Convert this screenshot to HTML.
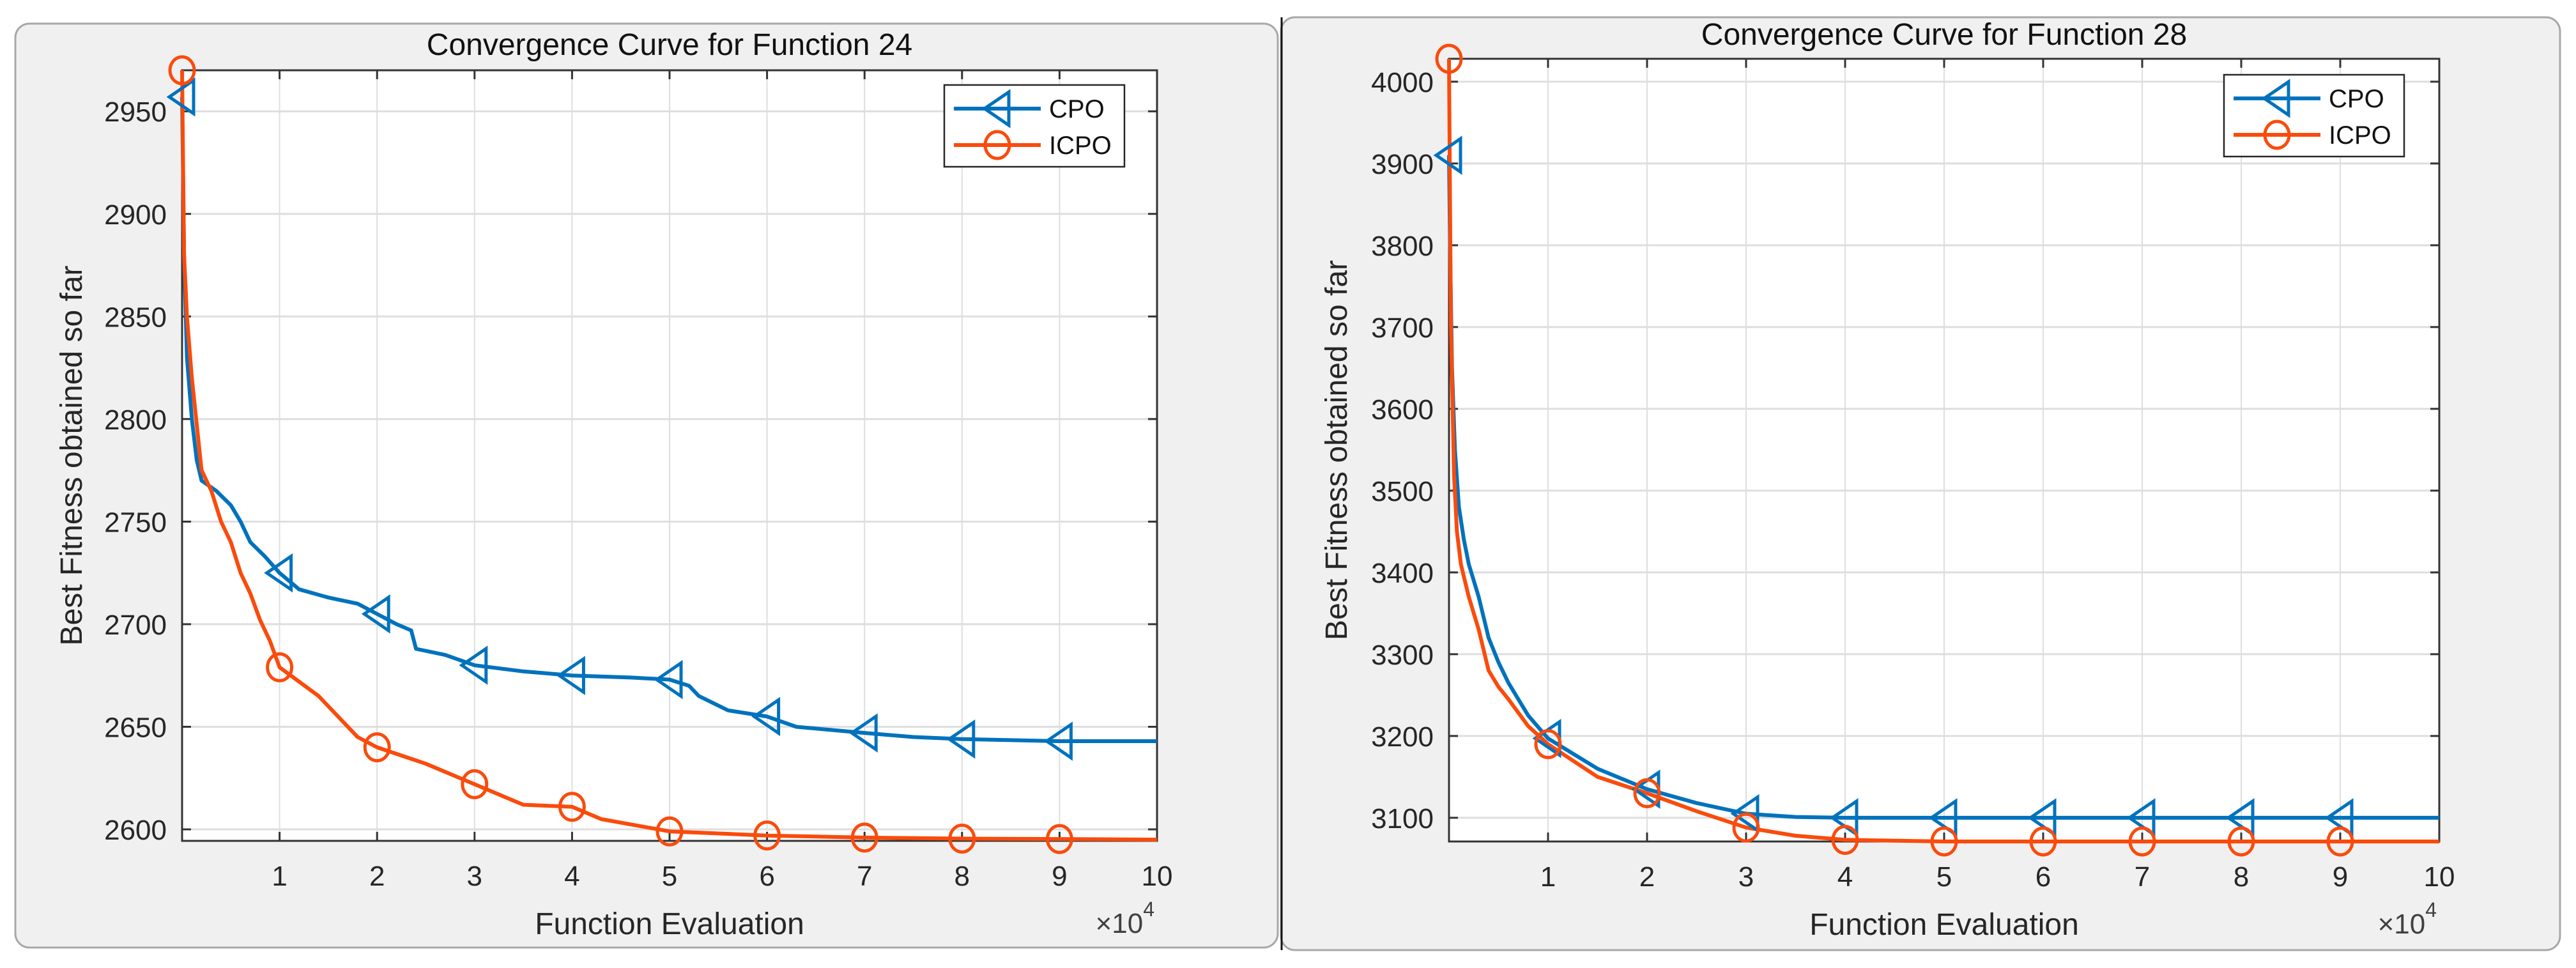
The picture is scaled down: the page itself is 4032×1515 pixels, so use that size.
<!DOCTYPE html>
<html><head><meta charset="utf-8">
<style>
html,body{margin:0;padding:0;background:#fff;}
body{width:4032px;height:1515px;overflow:hidden;position:relative;font-family:"Liberation Sans",Arial,sans-serif;}
svg{position:absolute;left:0;top:0;}
</style></head>
<body>
<svg id="root" width="4032" height="1515" viewBox="0 0 4032 1515">
  <rect x="24" y="37" width="1976" height="1446" rx="22" fill="#f0f0f0" stroke="#a8a8a8" stroke-width="3"/>
  <rect x="2005" y="27" width="2002" height="1460" rx="22" fill="#f0f0f0" stroke="#a8a8a8" stroke-width="3"/>
  <line x1="2006" y1="27" x2="2006" y2="1487" stroke="#111" stroke-width="3"/>
</svg>
<script>
// ---- Function 24 data (x in units of 1e4 evaluations) ----
const f24X_cpo = [0,0.02,0.05,0.1,0.15,0.2,0.35,0.5,0.6,0.7,0.85,1,1.2,1.5,1.8,2,2.2,2.35,2.4,2.7,3,3.5,4,4.6,5,5.2,5.3,5.6,6,6.3,7,7.5,8,9,10];
const f24Y_cpo = [2957,2880,2830,2800,2780,2770,2765,2758,2750,2740,2733,2725,2717,2713,2710,2705,2700,2697,2688,2685,2680,2677,2675,2674,2673,2670,2665,2658,2655,2650,2647,2645,2644,2643,2643];
const f24X_icpo = [0,0.02,0.05,0.1,0.2,0.3,0.4,0.5,0.6,0.7,0.8,0.9,1,1.2,1.4,1.6,1.8,2,2.5,3,3.5,4,4.3,5,6,7,8,9,10];
const f24Y_icpo = [2970,2880,2850,2820,2775,2765,2750,2740,2725,2715,2702,2692,2679,2672,2665,2655,2645,2640,2632,2622,2612,2611,2605,2599,2597,2596,2595.5,2595.3,2595];
const f24YTicks = [2600,2650,2700,2750,2800,2850,2900,2950];
// ---- Function 28 data ----
const f28X_cpo = [0,0.01,0.03,0.06,0.1,0.15,0.2,0.3,0.4,0.5,0.6,0.8,1,1.5,2,2.5,3,3.5,4,5,10];
const f28Y_cpo = [3910,3800,3650,3550,3480,3440,3410,3370,3320,3290,3265,3225,3197,3160,3135,3118,3105,3101,3100,3100,3100];
const f28X_icpo = [0,0.01,0.02,0.05,0.08,0.12,0.2,0.3,0.4,0.5,0.6,0.8,1,1.5,2,2.5,3,3.5,4,5,10];
const f28Y_icpo = [4028,3850,3700,3520,3450,3410,3370,3330,3280,3260,3245,3212,3190,3150,3130,3108,3088,3078,3073,3071,3071];
const f28YTicks = [3100,3200,3300,3400,3500,3600,3700,3800,3900,4000];
const xTicks = [1,2,3,4,5,6,7,8,9,10];
const markerX = [0,1,2,3,4,5,6,7,8,9];
const seriesNames = ['CPO','ICPO'];

const NS='http://www.w3.org/2000/svg';
const root=document.getElementById('root');
const BLUE='#0072BD', ORANGE='#FA4B0C';
function mk(tag,attrs,parent){const e=document.createElementNS(NS,tag);for(const k in attrs)e.setAttribute(k,attrs[k]);(parent||root).appendChild(e);return e;}
function interp(xs,ys,x){for(let i=0;i<xs.length-1;i++){if(x>=xs[i]&&x<=xs[i+1]){const t=(x-xs[i])/(xs[i+1]-xs[i]);return ys[i]+t*(ys[i+1]-ys[i]);}}return ys[ys.length-1];}
function triPath(cx,cy){return `M${cx-20},${cy} L${cx+18},${cy-26} L${cx+18},${cy+26} Z`;}

function drawChart(c){
  const g=mk('g',{});
  
  
  const sx=v=>c.L+(v-0)/(10-0)*(c.R-c.L);
  const sy=v=>c.B-(v-c.ymin)/(c.ymax-c.ymin)*(c.B-c.T);
  const plot=mk('rect',{x:c.L,y:c.T,width:c.R-c.L,height:c.B-c.T,fill:'#fff'},g);
  
  
  // grid
  xTicks.forEach(t=>{const l=mk('line',{x1:sx(t),x2:sx(t),y1:c.T,y2:c.B,stroke:'#dedede','stroke-width':2},g);
    });
  c.yt.forEach(t=>{const l=mk('line',{x1:c.L,x2:c.R,y1:sy(t),y2:sy(t),stroke:'#dedede','stroke-width':3},g);
    });
  // axes box
  const box=mk('rect',{x:c.L,y:c.T,width:c.R-c.L,height:c.B-c.T,fill:'none',stroke:'#333','stroke-width':3},g);
  
  xTicks.forEach(t=>{
    mk('line',{x1:sx(t),x2:sx(t),y1:c.B,y2:c.B-14,stroke:'#333','stroke-width':3},g);
    mk('line',{x1:sx(t),x2:sx(t),y1:c.T,y2:c.T+14,stroke:'#333','stroke-width':3},g);
    const tx=mk('text',{x:sx(t),y:c.B+70,'font-size':44,'text-anchor':'middle',fill:'#262626'},g);
    tx.textContent=t;
    
  });
  c.yt.forEach(t=>{
    mk('line',{x1:c.L,x2:c.L+14,y1:sy(t),y2:sy(t),stroke:'#333','stroke-width':3},g);
    mk('line',{x1:c.R,x2:c.R-14,y1:sy(t),y2:sy(t),stroke:'#333','stroke-width':3},g);
    const tx=mk('text',{x:c.L-24,y:sy(t)+16,'font-size':44,'text-anchor':'end',fill:'#262626'},g);
    tx.textContent=t;
    
  });
  // series
  const series=[[c.xc,c.yc,BLUE,'cpo'],[c.xi,c.yi,ORANGE,'icpo']];
  series.forEach(([xs,ys,col,nm])=>{
    let d='';
    for(let i=0;i<xs.length;i++){const v=Math.max(c.ymin,Math.min(c.ymax,ys[i]));d+=(i?'L':'M')+sx(xs[i]).toFixed(1)+','+sy(v).toFixed(1)+' ';}
    const p=mk('path',{d:d,fill:'none',stroke:col,'stroke-width':6,'stroke-linejoin':'round'},g);
    
  });
  series.forEach(([xs,ys,col,nm])=>{
    markerX.forEach(mx=>{
      const v=Math.max(c.ymin,Math.min(c.ymax,interp(xs,ys,mx)));
      let m;
      if(nm==='cpo') m=mk('path',{d:triPath(sx(mx),sy(v)),fill:'none',stroke:col,'stroke-width':5},g);
      else m=mk('ellipse',{cx:sx(mx),cy:sy(v),rx:19,ry:21,fill:'none',stroke:col,'stroke-width':5},g);
      
    });
  });
  // title/labels
  const ti=mk('text',{x:(c.L+c.R)/2,y:c.titleY,'font-size':48,'text-anchor':'middle',fill:'#111'},g);
  ti.textContent=c.title;
  const xl=mk('text',{x:(c.L+c.R)/2,y:c.B+146,'font-size':48,'text-anchor':'middle',fill:'#262626'},g);
  xl.textContent='Function Evaluation';
  const yl=mk('text',{x:0,y:0,'font-size':48,'text-anchor':'middle',fill:'#262626',transform:`translate(${c.ylx},${(c.T+c.B)/2}) rotate(-90)`},g);
  yl.textContent='Best Fitness obtained so far';
  const ex=mk('text',{x:c.R-4,y:c.B+144,'font-size':44,'text-anchor':'end',fill:'#404040'},g);
  
  const t1=mk('tspan',{},ex);t1.textContent='×10';
  const t2=mk('tspan',{dy:-26,'font-size':32},ex);t2.textContent='4';
  // legend
  const lg=mk('g',{},g);
  
  mk('rect',{x:c.lgX,y:c.lgY,width:282,height:128,fill:'#fff',stroke:'#262626','stroke-width':2.5},lg);
  seriesNames.forEach((n,i)=>{
    const ry=c.lgY+37+i*57;
    const col=i?ORANGE:BLUE;
    const e=mk('g',{},lg);
    
    mk('line',{x1:c.lgX+15,x2:c.lgX+151,y1:ry,y2:ry,stroke:col,'stroke-width':6},e);
    if(i===0) mk('path',{d:triPath(c.lgX+83,ry),fill:'none',stroke:col,'stroke-width':5},e);
    else mk('ellipse',{cx:c.lgX+83,cy:ry,rx:19,ry:21,fill:'none',stroke:col,'stroke-width':5},e);
    const tx=mk('text',{x:c.lgX+164,y:ry+14,'font-size':40,fill:'#111'},e);tx.textContent=n;
  });
}
drawChart({id:'function-24',L:285,R:1811,T:110,B:1316,ymin:2594.4,ymax:2970,yt:f24YTicks,
  xc:f24X_cpo,yc:f24Y_cpo,xi:f24X_icpo,yi:f24Y_icpo,title:'Convergence Curve for Function 24',titleY:86,ylx:128,lgX:1478,lgY:133});
drawChart({id:'function-28',L:2268,R:3818,T:92,B:1317,ymin:3071,ymax:4028,yt:f28YTicks,
  xc:f28X_cpo,yc:f28Y_cpo,xi:f28X_icpo,yi:f28Y_icpo,title:'Convergence Curve for Function 28',titleY:70,ylx:2108,lgX:3481,lgY:117});
</script>
</body></html>
